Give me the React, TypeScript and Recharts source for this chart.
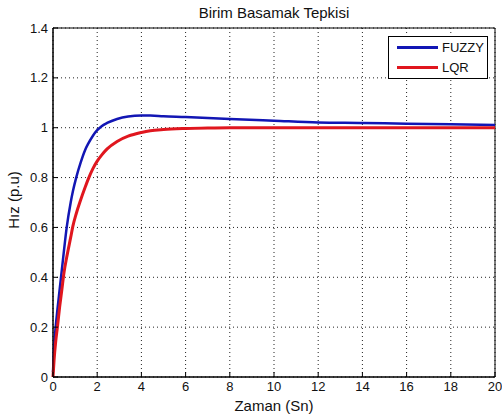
import { CartesianGrid, Legend, Line, LineChart, ReferenceArea, XAxis, YAxis } from "recharts";

const time = [0, 0.05, 0.12, 0.2, 0.3, 0.4, 0.5, 0.62, 0.8, 0.9, 1.05, 1.25, 1.45, 1.6, 1.8, 2.0, 2.2, 2.45, 2.9, 3.4, 4.0, 4.4, 5, 6, 7, 8, 10, 12, 14, 16, 18, 20];
const fuzzy = [0.02, 0.12, 0.2, 0.27, 0.35, 0.43, 0.51, 0.6, 0.7, 0.745, 0.8, 0.86, 0.91, 0.937, 0.967, 0.99, 1.006, 1.019, 1.035, 1.045, 1.049, 1.049, 1.046, 1.043, 1.039, 1.035, 1.028, 1.021, 1.019, 1.016, 1.014, 1.011];
const lqr = [0, 0.07, 0.14, 0.2, 0.28, 0.35, 0.42, 0.48, 0.56, 0.605, 0.655, 0.71, 0.76, 0.795, 0.835, 0.866, 0.89, 0.915, 0.945, 0.966, 0.981, 0.988, 0.993, 0.997, 0.999, 1.0, 1.0, 1.0, 1.0, 1.0, 1.0, 1.0];

const xTicks = [0, 2, 4, 6, 8, 10, 12, 14, 16, 18, 20];
const yTicks = [0, 0.2, 0.4, 0.6, 0.8, 1, 1.2, 1.4];

const chartData = time.map((t, i) => ({ t, FUZZY: fuzzy[i], LQR: lqr[i] }));

const font = '"Liberation Sans", Arial, Helvetica, sans-serif';
const tickStyle = { fill: "#111", fontSize: 13, fontFamily: font };

function LegendBox({ payload }: any) {
  return (
    <div
      style={{
        width: 100,
        height: 43,
        boxSizing: "border-box",
        border: "1px solid #000",
        background: "#fff",
        position: "relative",
        fontFamily: font,
        fontSize: 13,
        color: "#111",
      }}
    >
      {(payload || []).map((entry: any, i: number) => (
        <div key={entry.value} style={{ position: "absolute", left: 0, top: 10.5 + i * 20, width: 100, height: 0 }}>
          <div style={{ position: "absolute", left: 8, top: -1.5, width: 41, height: 3, background: entry.color }} />
          <div style={{ position: "absolute", left: 53, top: -8, lineHeight: "16px" }}>{entry.value}</div>
        </div>
      ))}
    </div>
  );
}

export default function App() {
  return (
    <div style={{ position: "absolute", left: 0, top: 0, width: 502, height: 419, background: "#fff" }}>
      <LineChart width={502} height={419} data={chartData} margin={{ top: 28, right: 7, bottom: 0, left: 0 }}>
        <CartesianGrid stroke="#222" strokeDasharray="1 3" />
        <XAxis
          dataKey="t"
          type="number"
          domain={[0, 20]}
          ticks={xTicks}
          height={42}
          tickSize={-5}
          tickMargin={10}
          tick={tickStyle}
          stroke="#000"
        />
        <XAxis xAxisId="top" orientation="top" type="number" domain={[0, 20]} ticks={xTicks} height={0} tickSize={-5} tick={false} axisLine={false} stroke="#000" />
        <YAxis
          type="number"
          domain={[0, 1.4]}
          ticks={yTicks}
          width={53}
          tickSize={-5}
          tickMargin={10}
          tick={tickStyle}
          stroke="#000"
        />
        <YAxis yAxisId="right" orientation="right" type="number" domain={[0, 1.4]} ticks={yTicks} width={0} tickSize={-5} tick={false} axisLine={false} stroke="#000" />
        <ReferenceArea x1={0} x2={20} y1={0} y2={1.4} fill="none" stroke="#000" strokeOpacity={1} />
        <Line dataKey="FUZZY" type="monotone" stroke="#1216b4" strokeWidth={2.5} dot={false} isAnimationActive={false} />
        <Line dataKey="LQR" type="monotone" stroke="#e0161e" strokeWidth={3} dot={false} isAnimationActive={false} />
        <Legend
          layout="vertical"
          align="center"
          verticalAlign="middle"
          content={<LegendBox />}
          wrapperStyle={{ left: 388, top: 36, width: 100, height: 43 }}
        />
      </LineChart>
      <div style={{ position: "absolute", left: 53, top: 4, width: 442, textAlign: "center", fontFamily: font, fontSize: 15, lineHeight: "18px", color: "#111" }}>
        Birim Basamak Tepkisi
      </div>
      <div style={{ position: "absolute", left: 53, top: 397, width: 442, textAlign: "center", fontFamily: font, fontSize: 15, lineHeight: "18px", color: "#111" }}>
        Zaman (Sn)
      </div>
      <div
        style={{
          position: "absolute",
          left: 14 - 50,
          top: 200 - 9,
          width: 100,
          textAlign: "center",
          fontFamily: font,
          fontSize: 15,
          lineHeight: "18px",
          color: "#111",
          transform: "rotate(-90deg)",
        }}
      >
        Hız (p.u)
      </div>
    </div>
  );
}
